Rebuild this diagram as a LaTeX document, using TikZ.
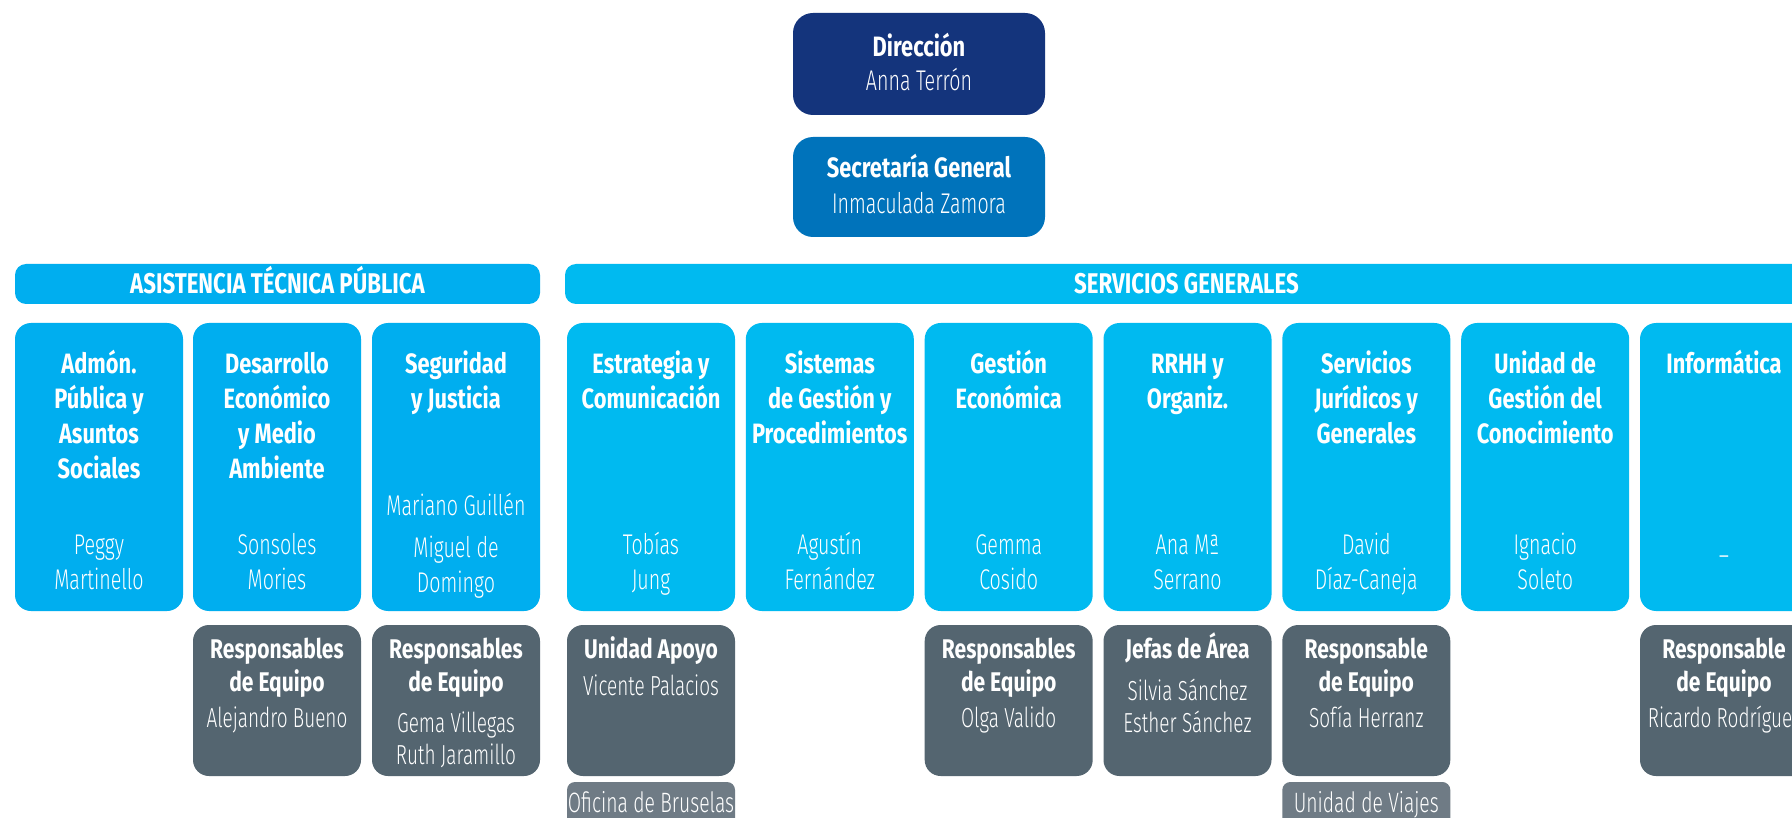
\documentclass[tikz,border=0pt]{standalone}
\usepackage{fontspec}
\newfontfamily\ffb{Fira Sans}[FakeStretch=0.78]
\newfontfamily\ffl{Fira Sans Light}[FakeStretch=0.69]
\definecolor{navy}{RGB}{20,52,124}
\definecolor{secblue}{RGB}{0,115,187}
\definecolor{atpblue}{RGB}{0,174,239}
\definecolor{sgblue}{RGB}{0,186,240}
\definecolor{dkgray}{RGB}{84,101,112}
\definecolor{ltgray}{RGB}{111,123,133}
\newcommand\tp{\rule{0pt}{30pt}}
\tikzset{
  bx/.style={rounded corners=16pt, inner sep=0, outer sep=0, anchor=north west, minimum width=168pt},
  atpbox/.style={bx, fill=atpblue, minimum height=288pt},
  sgbox/.style={bx, fill=sgblue, minimum height=288pt},
  dkbox/.style={bx, fill=dkgray, minimum height=151pt},
  tagbox/.style={bx, fill=ltgray, minimum height=50pt, rounded corners=8pt},
  hdbar/.style={rounded corners=11pt, inner sep=0, outer sep=0, anchor=north west, minimum height=40pt},
  topbox/.style={rounded corners=20pt, inner sep=0, outer sep=0, anchor=north west, minimum width=252pt, minimum height=102pt},
  ttl/.style={anchor=north, inner sep=0, align=center, text=white, font=\ffb\bfseries\fontsize{28}{35}\selectfont},
  nm/.style={anchor=north, inner sep=0, align=center, text=white, font=\ffl\fontsize{28.5}{35}\selectfont},
  dttl/.style={anchor=north, inner sep=0, align=center, text=white, font=\ffb\bfseries\fontsize{27}{33}\selectfont},
  dnm/.style={anchor=north, inner sep=0, align=center, text=white, font=\ffl\fontsize{27.5}{32}\selectfont},
  tagtxt/.style={anchor=north, inner sep=0, align=center, text=white, font=\ffl\fontsize{28}{30}\selectfont},
  hdtxt/.style={anchor=north, inner sep=0, align=center, text=white, font=\ffb\bfseries\fontsize{28.5}{34}\selectfont},
}
\begin{document}
\begin{tikzpicture}[x=1pt,y=-1pt]
\useasboundingbox[fill=white] (0,0) rectangle (1792,818);
% top boxes
\node[topbox, fill=navy] (dir) at (793,13) {};
\node[ttl] (dirt) at (919,26) {\tp Dirección};
\node[nm] (dirn) at (919,60) {\tp Anna Terrón};
\node[topbox, fill=secblue, minimum height=100pt] (sec) at (793,137) {};
\node[ttl] (sect) at (919,147) {\tp Secretaría General};
\node[nm] (secn) at (919,183) {\tp Inmaculada Zamora};
% header bars
\node[hdbar, fill=atpblue, minimum width=525pt] (atp) at (15,264) {};
\node[hdtxt] (atpt) at (277.5,263) {\tp ASISTENCIA TÉCNICA PÚBLICA};
\node[hdbar, fill=sgblue, minimum width=1243pt] (sg) at (565,264) {};
\node[hdtxt] (sgt) at (1186.5,263) {\tp SERVICIOS GENERALES};
% column boxes
\node[atpbox] (c1) at (15,323) {};
\node[atpbox] (c2) at (193,323) {};
\node[atpbox] (c3) at (372,323) {};
\node[sgbox] (c4) at (567,323) {};
\node[sgbox] (c5) at (745.8,323) {};
\node[sgbox] (c6) at (924.7,323) {};
\node[sgbox] (c7) at (1103.5,323) {};
\node[sgbox] (c8) at (1282.3,323) {};
\node[sgbox] (c9) at (1461.2,323) {};
\node[sgbox] (c10) at (1640,323) {};
% column titles (first baseline 373)
\node[ttl] (c1t) at (99,343) {\tp Admón.\\Pública y\\Asuntos\\Sociales};
\node[ttl] (c2t) at (277,343) {\tp Desarrollo\\Económico\\y Medio\\Ambiente};
\node[ttl] (c3t) at (456,343) {\tp Seguridad\\y Justicia};
\node[ttl] (c4t) at (651,343) {\tp Estrategia y\\Comunicación};
\node[ttl] (c5t) at (829.8,343) {\tp Sistemas\\de Gestión y\\Procedimientos};
\node[ttl] (c6t) at (1008.7,343) {\tp Gestión\\Económica};
\node[ttl] (c7t) at (1187.5,343) {\tp RRHH y\\Organiz.};
\node[ttl] (c8t) at (1366.3,343) {\tp Servicios\\Jurídicos y\\Generales};
\node[ttl] (c9t) at (1545.2,343) {\tp Unidad de\\Gestión del\\Conocimiento};
\node[ttl] (c10t) at (1724,343) {\tp Informática};
% names (first baseline 554)
\node[nm] (c1n) at (99,524) {\tp Peggy\\Martinello};
\node[nm] (c2n) at (277,524) {\tp Sonsoles\\Mories};
\node[nm] (c3n) at (456,485) {\tp Mariano Guillén};
\node[nm] (c3m) at (456,527) {\tp Miguel de\\Domingo};
\node[nm] (c4n) at (651,524) {\tp Tobías\\Jung};
\node[nm] (c5n) at (829.8,524) {\tp Agustín\\Fernández};
\node[nm] (c6n) at (1008.7,524) {\tp Gemma\\Cosido};
\node[nm] (c7n) at (1187.5,524) {\tp Ana Mª\\Serrano};
\node[nm] (c8n) at (1366.3,524) {\tp David\\Díaz-Caneja};
\node[nm] (c9n) at (1545.2,524) {\tp Ignacio\\Soleto};
\node[nm] (c10n) at (1724,535) {\tp –};
% dark boxes
\node[dkbox] (d2) at (193,625) {};
\node[dkbox] (d3) at (372,625) {};
\node[dkbox] (d4) at (567,625) {};
\node[dkbox] (d6) at (924.7,625) {};
\node[dkbox] (d7) at (1103.5,625) {};
\node[dkbox] (d8) at (1282.3,625) {};
\node[dkbox] (d10) at (1640,625) {};
\node[dttl] (d2t) at (277,628) {\tp Responsables\\de Equipo};
\node[dnm] (d2n) at (277,697) {\tp Alejandro Bueno};
\node[dttl] (d3t) at (456,628) {\tp Responsables\\de Equipo};
\node[dnm] (d3n) at (456,702) {\tp Gema Villegas\\Ruth Jaramillo};
\node[dttl] (d4t) at (651,628) {\tp Unidad Apoyo};
\node[dnm] (d4n) at (651,665) {\tp Vicente Palacios};
\node[dttl] (d6t) at (1008.7,628) {\tp Responsables\\de Equipo};
\node[dnm] (d6n) at (1008.7,697) {\tp Olga Valido};
\node[dttl] (d7t) at (1187.5,628) {\tp Jefas de Área};
\node[dnm] (d7n) at (1187.5,670) {\tp Silvia Sánchez\\Esther Sánchez};
\node[dttl] (d8t) at (1366.3,628) {\tp Responsable\\de Equipo};
\node[dnm] (d8n) at (1366.3,697) {\tp Sofía Herranz};
\node[dttl] (d10t) at (1724,628) {\tp Responsable\\de Equipo};
\node[dnm] (d10n) at (1724,697) {\tp Ricardo Rodríguez};
% tags
\node[tagbox] (t4) at (567,782) {};
\node[tagtxt] (t4t) at (651,782) {\tp Oficina de Bruselas};
\node[tagbox] (t8) at (1282.3,782) {};
\node[tagtxt] (t8t) at (1366.3,782) {\tp Unidad de Viajes};
\end{tikzpicture}
\end{document}
